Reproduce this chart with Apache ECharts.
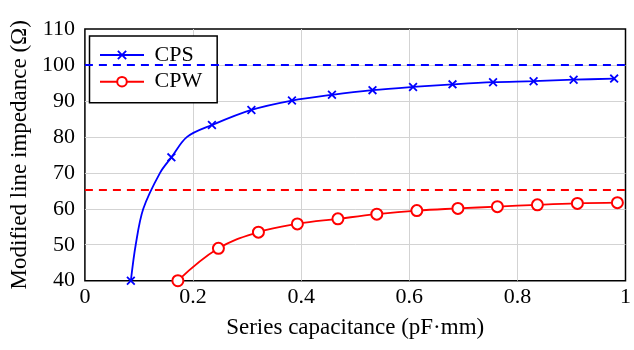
<!DOCTYPE html>
<html>
<head>
<meta charset="utf-8">
<script src="https://cdn.jsdelivr.net/npm/echarts@6/dist/echarts.min.js"></script>
<style>html,body{margin:0;padding:0;background:#fff}#c{width:634px;height:350px}</style>
</head>
<body>
<div id="c"></div>
<script>
// Marked points
const capCPS = [0.085, 0.160, 0.235, 0.308, 0.383, 0.457, 0.532, 0.607, 0.680, 0.755, 0.830, 0.904, 0.979];
const zCPS   = [40.0, 74.3, 83.3, 87.5, 90.1, 91.7, 93.0, 93.9, 94.6, 95.2, 95.5, 95.9, 96.2];
const traceCapCPS = [0.094, 0.108, 0.139, 0.189];
const traceZCPS   = [50.0, 60.0, 70.0, 80.0];
const capCPW = [0.172, 0.247, 0.321, 0.393, 0.468, 0.540, 0.614, 0.690, 0.763, 0.837, 0.911, 0.985];
const zCPW   = [40.0, 49.0, 53.5, 55.8, 57.2, 58.5, 59.5, 60.1, 60.6, 61.1, 61.5, 61.7];
const limitCPS = 100;
const limitCPW = 65.4;
const seriesNames = ['CPS', 'CPW'];
const xTitle = 'Series capacitance (pF·mm)';
const yTitle = 'Modified line impedance (Ω)';

const FONT = '"Liberation Serif", "DejaVu Serif", serif';
const xMark = 'path://M0,1.4L1.4,0L5,3.6L8.6,0L10,1.4L6.4,5L10,8.6L8.6,10L5,6.4L1.4,10L0,8.6L3.6,5Z';

const cpsData = capCPS.map((x, i) => ({value: [x, zCPS[i]]}))
  .concat(traceCapCPS.map((x, i) => ({value: [x, traceZCPS[i]], symbol: 'none'})))
  .sort((a, b) => a.value[0] - b.value[0]);
const cpwData = capCPW.map((x, i) => [x, zCPW[i]]);

const chart = echarts.init(document.getElementById('c'), null, {renderer: 'canvas'});
chart.setOption({
  animation: false,
  backgroundColor: '#fff',
  textStyle: {fontFamily: FONT},
  grid: {left: 83.5, right: 4, top: 29, bottom: 69.3, show: true, borderColor: '#000', borderWidth: 1.5, backgroundColor: 'transparent'},
  legend: {
    data: seriesNames,
    orient: 'vertical',
    left: 89.5, top: 36,
    padding: [8, 15, 10, 9.5],
    itemWidth: 44, itemHeight: 12, itemGap: 4.7,
    formatter: ' {name}',
    backgroundColor: '#fff',
    borderColor: '#000', borderWidth: 1.5,
    textStyle: {fontFamily: FONT, fontSize: 22, lineHeight: 22, color: '#000'}
  },
  xAxis: {
    type: 'value', min: 0, max: 1, interval: 0.2,
    name: xTitle, nameLocation: 'middle', nameGap: 36,
    nameTextStyle: {fontFamily: FONT, fontSize: 23, color: '#000'},
    axisLine: {show: false}, axisTick: {show: false},
    axisLabel: {fontFamily: FONT, fontSize: 22, color: '#000', margin: 6},
    splitLine: {show: true, showMinLine: false, showMaxLine: false, lineStyle: {color: '#d3d3d3', width: 1}}
  },
  yAxis: {
    type: 'value', min: 40, max: 110, interval: 10,
    name: yTitle, nameLocation: 'middle', nameGap: 50,
    nameTextStyle: {fontFamily: FONT, fontSize: 23, color: '#000'},
    axisLine: {show: false}, axisTick: {show: false},
    axisLabel: {fontFamily: FONT, fontSize: 22, color: '#000', margin: 10},
    splitLine: {show: true, showMinLine: false, showMaxLine: false, lineStyle: {color: '#d3d3d3', width: 1}}
  },
  series: [
    {
      name: seriesNames[0], type: 'line', smooth: 0.33, clip: false,
      data: cpsData,
      symbol: xMark, symbolSize: 9,
      lineStyle: {color: '#0000ff', width: 1.8},
      itemStyle: {color: '#0000ff'},
      markLine: {silent: true, symbol: 'none', label: {show: false},
        lineStyle: {color: '#0000ff', type: [8, 6], width: 1.8},
        data: [{yAxis: limitCPS}]},
      z: 3
    },
    {
      name: seriesNames[1], type: 'line', smooth: 0.4, clip: false,
      data: cpwData,
      symbol: 'emptyCircle', symbolSize: 11,
      lineStyle: {color: '#ff0000', width: 1.8},
      itemStyle: {color: '#ff0000', borderWidth: 1.8},
      markLine: {silent: true, symbol: 'none', label: {show: false},
        lineStyle: {color: '#ff0000', type: [8, 6], width: 1.8},
        data: [{yAxis: limitCPW}]},
      z: 3
    }
  ]
});
</script>
</body>
</html>
